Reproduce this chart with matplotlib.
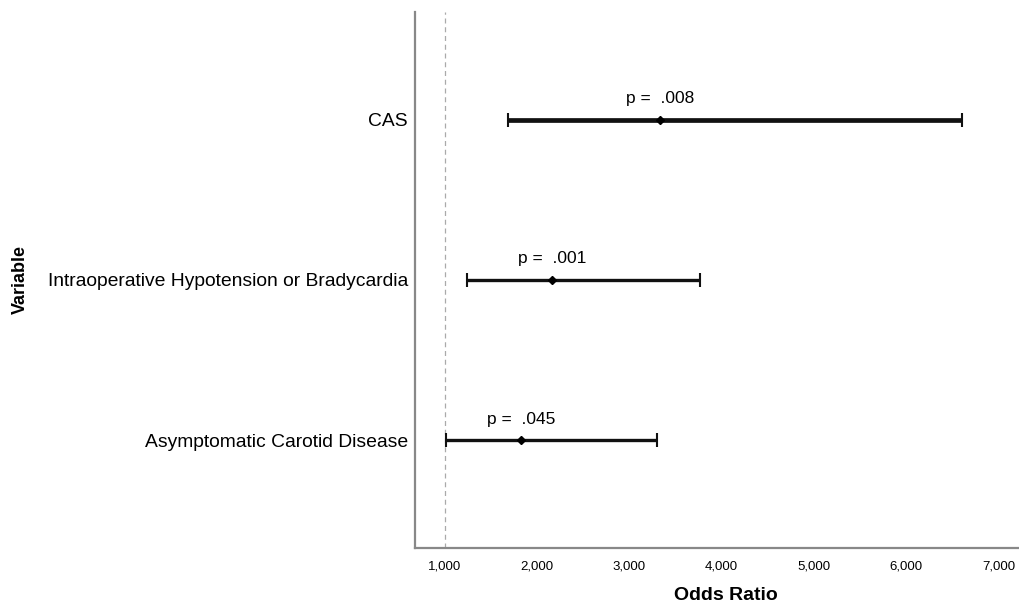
import numpy as np
import matplotlib.pyplot as plt

plt.rcParams['font.family'] = ['Liberation Sans', 'DejaVu Sans']

# data (bottom to top)
variables = ['Asymptomatic Carotid Disease',
             'Intraoperative Hypotension or Bradycardia',
             'CAS']
odds_ratio = [1.83, 2.16, 3.33]
ci_low = [1.01, 1.24, 1.68]
ci_high = [3.30, 3.77, 6.60]
p_text = ['p =  .045', 'p =  .001', 'p =  .008']
x_ticks = [1, 2, 3, 4, 5, 6, 7]
x_ticklabels = ['1,000', '2,000', '3,000', '4,000', '5,000', '6,000', '7,000']

line_w = [2.4, 2.4, 3.4]

fig = plt.figure(figsize=(10.19, 6.08), dpi=100)
ax = fig.add_axes([0.407, 0.099, 0.593, 0.881])

ypos = np.arange(len(variables))
ax.axvline(1, color='#aaaaaa', lw=0.9, ls=(0, (4, 3)), zorder=1)

for i in range(len(variables)):
    err = [[odds_ratio[i] - ci_low[i]], [ci_high[i] - odds_ratio[i]]]
    ax.errorbar(odds_ratio[i], ypos[i], xerr=err, fmt='D', color='black',
                ms=4.5, lw=line_w[i], capsize=5, capthick=1.5,
                ecolor='#111111', zorder=3)
    ax.text(odds_ratio[i], ypos[i] + 0.085, p_text[i], ha='center', va='bottom',
            fontsize=12.5)

ax.set_xlim(0.675, 7.22)
ax.set_ylim(-0.67, 2.67)
ax.set_xticks(x_ticks)
ax.set_xticklabels(x_ticklabels, fontsize=9.5)
ax.set_yticks(ypos)
ax.set_yticklabels(variables, fontsize=13.9)
ax.tick_params(axis='y', length=0, pad=5)
ax.tick_params(axis='x', length=0, pad=9)

for s in ['top', 'right']:
    ax.spines[s].set_visible(False)
for s in ['left', 'bottom']:
    ax.spines[s].set_color('#888888')
    ax.spines[s].set_linewidth(1.6)

ax.set_xlabel('Odds Ratio', fontsize=14, fontweight='bold')
ax.xaxis.set_label_coords(0.515, -0.074)
ax.set_ylabel('Variable', fontsize=13, fontweight='bold')
ax.yaxis.set_label_coords(-0.638, 0.5)

plt.savefig('out.png', dpi=100)
